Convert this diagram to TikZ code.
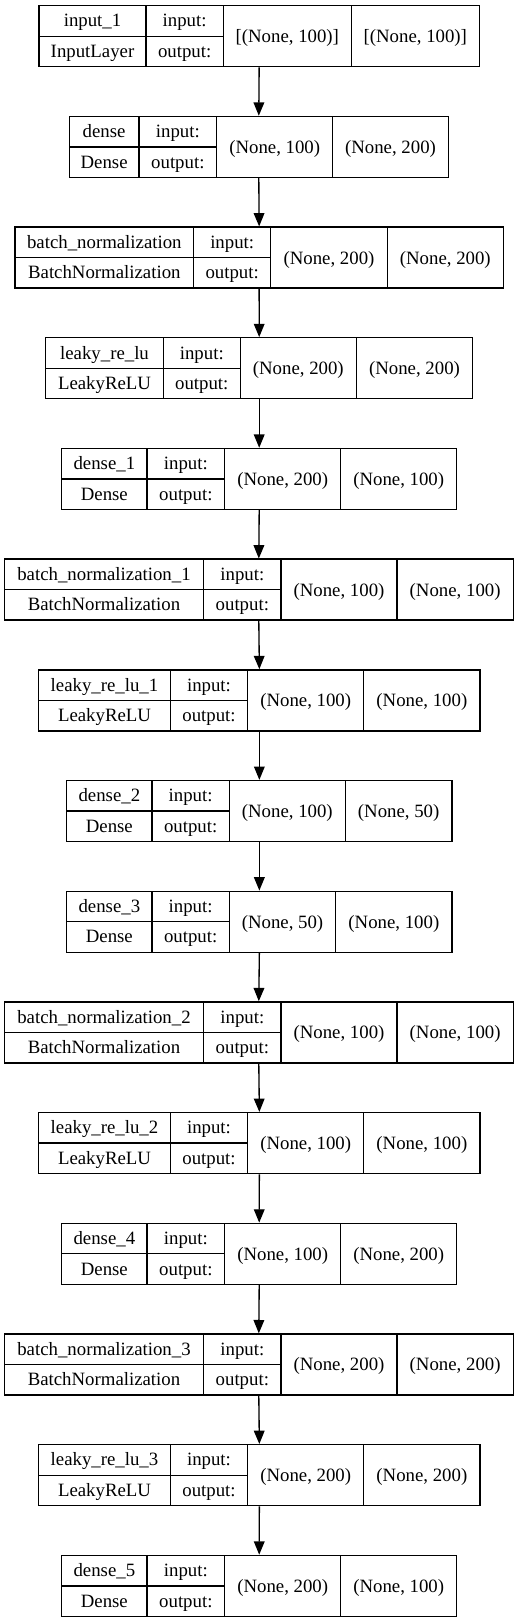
\documentclass[tikz,border=0pt]{standalone}
\usepackage{fontspec}
\setmainfont{Liberation Serif}
\usetikzlibrary{arrows.meta}
\newcommand\shapetxt[1]{(None, #1)}
\newcommand\ishapetxt[1]{[(None, #1)]}
\begin{document}
\begin{tikzpicture}[x=0.75pt,y=-0.75pt,
  box/.style={draw=black,line width=1pt,inner sep=0pt,minimum height=45.75pt},
  divider/.style={draw=black,line width=1pt},
  lbl/.style={anchor=base,inner sep=0pt,font=\fontsize{14.1}{17}\selectfont},
  conn/.style={-{Triangle[length=10pt,width=8pt]},line width=1pt}]
\useasboundingbox (0,0) rectangle (519,1623);
\foreach \i/\xa/\xb/\xc/\xd/\xe/\nm/\ty/\si/\so in {
0/39/146/223.3/351.3/479.3/input\_1/InputLayer/\ishapetxt{100}/\ishapetxt{100},
1/69.3/139/216.7/332.7/448.3/dense/Dense/\shapetxt{100}/\shapetxt{200},
2/15/193.7/270.7/387.3/503.3/batch\_normalization/BatchNormalization/\shapetxt{200}/\shapetxt{200},
3/45.7/163.3/240.3/356.3/472.7/leaky\_re\_lu/LeakyReLU/\shapetxt{200}/\shapetxt{200},
4/61.7/147/224.7/340.7/456.7/dense\_1/Dense/\shapetxt{200}/\shapetxt{100},
5/4.3/203.7/281/397/513.3/batch\_normalization\_1/BatchNormalization/\shapetxt{100}/\shapetxt{100},
6/38.7/170.3/247.7/363.7/480/leaky\_re\_lu\_1/LeakyReLU/\shapetxt{100}/\shapetxt{100},
7/66.7/152/229.3/345.3/452/dense\_2/Dense/\shapetxt{100}/\shapetxt{50},
8/66.7/152/229.3/335.7/452/dense\_3/Dense/\shapetxt{50}/\shapetxt{100},
9/4.3/203.7/281/397/513.3/batch\_normalization\_2/BatchNormalization/\shapetxt{100}/\shapetxt{100},
10/38.7/170.3/247.7/363.7/480/leaky\_re\_lu\_2/LeakyReLU/\shapetxt{100}/\shapetxt{100},
11/61.7/147/224.7/340.7/456.7/dense\_4/Dense/\shapetxt{100}/\shapetxt{200},
12/4.3/203.7/281/397/513.3/batch\_normalization\_3/BatchNormalization/\shapetxt{200}/\shapetxt{200},
13/38.7/170.3/247.7/363.7/480/leaky\_re\_lu\_3/LeakyReLU/\shapetxt{200}/\shapetxt{200},
14/61.7/147/224.7/340.7/456.7/dense\_5/Dense/\shapetxt{200}/\shapetxt{100}}{
  \pgfmathsetmacro\yt{5.7+110.69*\i}
  \pgfmathsetmacro\w{(\xe-\xa)*0.75}
  \node[box,minimum width=\w pt] (b\i) at ({(\xa+\xe)/2},{\yt+30.5}) {};
  \draw[divider] (\xb,\yt) -- (\xb,{\yt+61});
  \draw[divider] (\xc,\yt) -- (\xc,{\yt+61});
  \draw[divider] (\xd,\yt) -- (\xd,{\yt+61});
  \draw[divider] (\xa,{\yt+30.5}) -- (\xc,{\yt+30.5});
  \node[lbl] (nm\i) at ({(\xa+\xb)/2},{\yt+21.25}) {\nm};
  \node[lbl] (ty\i) at ({(\xa+\xb)/2},{\yt+51.75}) {\ty};
  \node[lbl] (in\i) at ({(\xb+\xc)/2},{\yt+21.25}) {input:};
  \node[lbl] (out\i) at ({(\xb+\xc)/2},{\yt+51.75}) {output:};
  \node[lbl] (si\i) at ({(\xc+\xd)/2},{\yt+37}) {\si};
  \node[lbl] (so\i) at ({(\xd+\xe)/2},{\yt+37}) {\so};
}
\foreach \i [evaluate=\i as \j using int(\i+1)] in {0,...,13}
  \draw[conn] (b\i.south) -- (b\j.north);
\end{tikzpicture}
\end{document}
